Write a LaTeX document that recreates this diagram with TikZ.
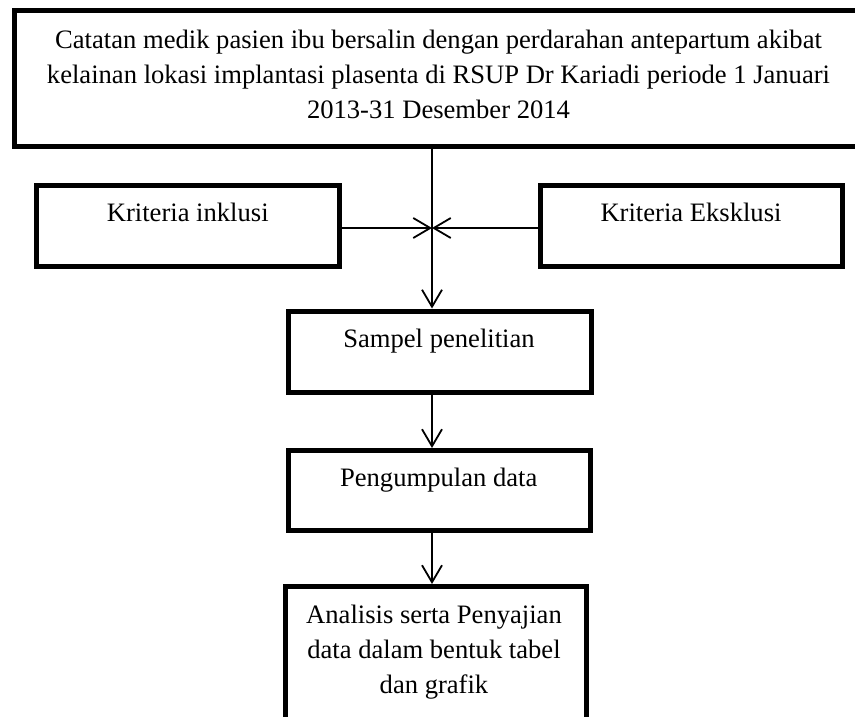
\documentclass[tikz,border=0pt]{standalone}
\usepackage{fontspec}
\setmainfont{Liberation Serif}
\usetikzlibrary{arrows.meta}
\begin{document}
\begin{tikzpicture}[x=1pt,y=-1pt,
  box/.style={draw=black,line width=5pt,fill=white,inner sep=0pt,minimum width=#1},
  txt/.style={font=\fontsize{26.6}{35}\selectfont,align=center,anchor=base,inner sep=0pt},
  conn/.style={line width=1.8pt,-{Straight Barb[length=17pt,width=20pt]}},
  plain/.style={line width=1.8pt}]
\clip (0,0) rectangle (855,717);
\fill[white] (0,0) rectangle (855,717);
% boxes
\node[box=849pt,minimum height=136pt] (top) at (438.5,78.5) {};
\node[box=302.5pt,minimum height=81.5pt] (inkl) at (187.75,225.75) {};
\node[box=302pt,minimum height=81.5pt] (eksk) at (691.5,225.75) {};
\node[box=302.5pt,minimum height=81.5pt] (sampel) at (439.75,351.75) {};
\node[box=301.5pt,minimum height=80pt] (kumpul) at (439.25,490.5) {};
\node[box=301.5pt,minimum height=140pt] (anal) at (435.75,656.5) {};
% texts (base anchor = baseline of the last line)
\node[txt] (ttop) at (438.5,118.5) {Catatan medik pasien ibu bersalin dengan perdarahan antepartum akibat\\kelainan lokasi implantasi plasenta di RSUP Dr Kariadi periode 1 Januari\\2013-31 Desember 2014};
\node[txt] (tinkl) at (187.75,221.7) {Kriteria inklusi};
\node[txt] (teksk) at (691,221.7) {Kriteria Eksklusi};
\node[txt] (tsampel) at (439,347) {Sampel penelitian};
\node[txt] (tkumpul) at (438.7,486.7) {Pengumpulan data};
\node[txt] (tanal) at (434,693) {Analisis serta Penyajian\\data dalam bentuk tabel\\dan grafik};
% connectors
\coordinate (j) at (432,228);
\draw[conn] (top.south -| j) -- (sampel.north -| j);
\draw[conn] (inkl.east |- j) -- (j);
\draw[conn] (eksk.west |- j) -- (j);
\draw[conn] (sampel.south -| j) -- (kumpul.north -| j);
\draw[conn] (kumpul.south -| j) -- (anal.north -| j);
\end{tikzpicture}
\end{document}
